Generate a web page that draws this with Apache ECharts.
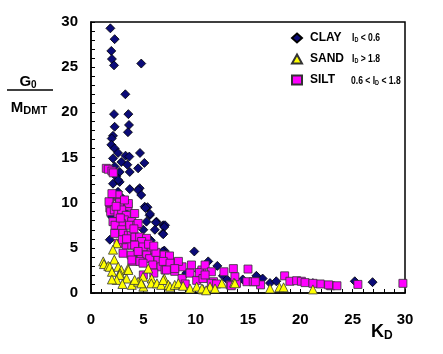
<!DOCTYPE html>
<html>
<head>
<meta charset="utf-8">
<script src="https://cdn.jsdelivr.net/npm/echarts@6/dist/echarts.min.js"></script>
<style>
html,body{margin:0;padding:0;background:#fff;}
#c{width:443px;height:354px;}
</style>
</head>
<body>
<div id="c"></div>
<script>
// Tick labels
const xTicks = [0, 5, 10, 15, 20, 25, 30];
const yTicks = [0, 5, 10, 15, 20, 25, 30];

// CLAY (I_D < 0.6): K_D values and G0/M_DMT values
const clayK = [1.85,2.26,1.94,2.0,2.2,4.8,3.28,2.2,3.57,2.26,3.63,3.53,2.1,1.98,1.94,2.26,2.58,3.3,3.66,4.68,2.1,2.9,3.47,5.1,4.5,3.7,2.74,2.26,2.4,2.1,2.74,2.6,3.7,4.65,4.5,2.58,4.8,5.13,5.4,5.2,5.6,5.64,1.98,6.25,6.2,5.3,6.9,7.07,7.0,6.1,5.0,6.85,6.9,5.64,5.7,1.8,7.0,6.85,9.87,11.2,12.07,9.1,12.6,15.8,16.4,17.1,17.7,21.2,25.2,26.9,3.0,3.2,4.0,2.5,4.3,8.0,10.3,13.0,14.5];
const clayG = [29.3,28.1,26.8,25.9,25.2,25.4,22.0,19.8,19.8,18.4,18.6,17.8,17.4,17.1,16.4,16.0,15.5,15.2,15.1,15.5,14.9,14.5,14.2,14.4,13.8,13.4,13.4,14.0,12.9,12.1,12.3,12.5,11.5,11.6,11.4,11.2,10.85,9.55,9.5,9.4,8.6,8.75,8.45,7.9,7.8,7.9,7.5,7.5,7.3,7.0,7.0,6.6,6.5,5.9,5.8,5.9,4.7,4.6,4.6,3.5,3.0,2.2,1.9,1.9,1.6,1.1,1.3,1.1,1.3,1.2,10.5,9.0,6.0,7.0,4.5,3.2,2.4,1.5,1.5];

// SILT (0.6 < I_D < 1.8)
const siltK = [1.46,1.65,2.0,2.13,2.55,2.58,2.74,3.53,1.8,1.8,1.72,2.74,3.57,1.88,2.23,2.58,2.93,3.37,4.17,3.18,2.1,2.9,3.89,2.3,3.7,4.37,4.5,2.93,2.26,3.06,3.57,3.85,4.2,4.65,5.3,4.84,2.58,3.37,3.9,4.17,4.97,5.8,3.06,3.85,4.8,5.32,5.6,6.4,7.04,7.07,4.0,3.9,4.68,4.97,5.9,6.7,7.9,8.7,9.6,10.6,7.07,8.0,6.97,7.5,6.9,7.55,8.35,7.2,8.0,8.7,9.46,10.1,10.35,10.9,11.5,10.7,11.7,13.6,13.3,13.9,10.9,12.7,15.0,11.5,13.4,14.9,15.5,16.2,18.5,19.0,19.65,20.1,20.45,21.9,22.9,23.5,25.5,29.8,13.75,15.7,21.2,22.7,5.0,6.0,9.0,12.0,2.4,3.2,2.0,3.0,4.5,5.5,6.2,6.0,2.8,4.1,3.4];
const siltG = [13.8,13.7,13.5,13.3,10.7,10.85,10.1,9.6,9.4,10.0,10.1,10.0,9.9,9.0,9.2,8.8,9.2,8.6,8.8,8.1,7.9,7.7,7.9,7.5,7.5,7.5,7.7,7.0,6.6,6.6,6.4,6.4,6.2,6.2,6.05,5.7,5.5,5.3,5.3,5.3,5.1,4.8,4.4,4.2,4.0,4.2,3.8,3.65,4.0,4.2,3.5,3.65,3.5,3.3,3.1,2.9,3.3,2.9,3.1,2.55,2.55,2.4,4.2,4.1,3.5,3.3,3.5,2.55,2.7,1.6,2.2,1.4,2.25,3.1,2.35,1.6,1.25,2.7,0.9,1.07,2.0,2.35,2.65,1.07,0.8,1.25,1.25,0.9,1.9,1.3,1.36,1.3,1.15,1.0,0.8,0.8,0.95,1.07,1.8,1.25,1.07,0.9,2.0,2.2,1.0,1.0,9.6,10.3,11.0,5.9,4.6,5.4,4.5,5.2,8.3,7.1,6.0];

// SAND (I_D > 1.8)
const sandK = [2.45,2.1,1.17,1.24,2.23,1.65,1.79,2.0,2.6,2.9,2.77,2.74,3.53,3.57,2.45,3.4,3.9,4.5,4.17,4.97,5.0,4.8,5.47,5.8,5.76,6.3,6.7,7.0,6.9,7.4,7.55,8.0,8.35,8.8,9.46,10.1,10.7,10.6,11.37,11.85,12.5,13.66,13.75,11.0,17.1,18.0,18.4,21.2,2.0,3.0];
const sandG = [5.5,4.8,3.5,3.2,3.7,3.0,2.9,2.35,2.9,2.55,2.2,2.0,2.7,2.55,1.45,1.6,0.9,1.25,1.45,1.8,0.7,1.07,2.7,1.6,1.07,1.07,0.9,1.6,1.44,0.9,0.7,0.9,1.07,0.8,0.5,0.7,0.4,0.5,0.7,0.5,1.07,1.14,1.07,0.3,0.5,0.63,0.63,0.4,1.5,1.0];

const seriesNames = ['CLAY', 'SAND', 'SILT'];

function pairs(xs, ys) { return xs.map((v, i) => [v, ys[i]]); }

const chart = echarts.init(document.getElementById('c'), null, {renderer: 'canvas'});
const F = 'Liberation Sans, Arial, sans-serif';

const axisCommon = {
  min: 0, max: 30, interval: 5,
  axisLine: {show: true, lineStyle: {color: '#000', width: 1.5}},
  axisTick: {show: true, inside: true, length: 4, lineStyle: {color: '#000', width: 1}},
  minorTick: {show: true, splitNumber: 5, length: 4, lineStyle: {color: '#000', width: 1}},
  splitLine: {show: false},
  axisLabel: {color: '#000', fontFamily: F, fontWeight: 'bold', fontSize: 15}
};

const condRich = {
  n: {fontFamily: F, fontWeight: 'bold', fontSize: 11, fill: '#000'},
  s: {fontFamily: F, fontWeight: 'bold', fontSize: 7, fill: '#000', padding: [4, 0, 0, 0]}
};
function cond(x, y, txt) {
  return {type: 'text', x: x, y: y, scaleX: 0.78, scaleY: 1,
    style: {x: 0, y: 0, text: txt, align: 'left', verticalAlign: 'middle', rich: condRich}};
}

chart.setOption({
  animation: false,
  backgroundColor: '#fff',
  grid: {left: 91, top: 22, right: 38, bottom: 61, show: true, borderColor: '#000', borderWidth: 1.5, backgroundColor: 'transparent'},
  xAxis: Object.assign({}, axisCommon, {
    type: 'value',
    axisLabel: Object.assign({}, axisCommon.axisLabel, {margin: 19, formatter: v => xTicks.includes(v) ? String(v) : ''})
  }),
  yAxis: Object.assign({}, axisCommon, {
    type: 'value',
    axisLabel: Object.assign({}, axisCommon.axisLabel, {margin: 13, formatter: v => yTicks.includes(v) ? String(v) : ''})
  }),
  legend: {
    orient: 'vertical', left: 286, top: 27,
    itemWidth: 10, itemHeight: 9, itemGap: 9,
    data: ['CLAY', 'SAND', 'SILT'],
    textStyle: {color: '#000', fontFamily: F, fontWeight: 'bold', fontSize: 12, padding: [0, 0, 0, 3]}
  },
  series: [
    {name: seriesNames[0], type: 'scatter', symbol: 'diamond', symbolSize: 9, z: 2,
     itemStyle: {color: '#0b0b78', borderColor: '#000', borderWidth: 0.8, opacity: 1},
     data: pairs(clayK, clayG)},
    {name: seriesNames[2], type: 'scatter', symbol: 'rect', symbolSize: 8, z: 3,
     itemStyle: {color: '#ff00ff', borderColor: '#333', borderWidth: 0.8, opacity: 1},
     data: pairs(siltK, siltG)},
    {name: seriesNames[1], type: 'scatter', symbol: 'triangle', symbolSize: 9, z: 4,
     itemStyle: {color: '#ffff00', borderColor: '#333', borderWidth: 0.8, opacity: 1},
     data: pairs(sandK, sandG)}
  ],
  graphic: [
    {type: 'text', style: {x: 28, y: 82, text: '{b|G}{s|0}', align: 'center', verticalAlign: 'middle',
      rich: {b: {fontFamily: F, fontWeight: 'bold', fontSize: 15, fill: '#000'}, s: {fontFamily: F, fontWeight: 'bold', fontSize: 10, fill: '#000', padding: [6, 0, 0, 0]}}}},
    {type: 'line', shape: {x1: 7, y1: 90, x2: 53, y2: 90}, style: {stroke: '#000', lineWidth: 1.5}},
    {type: 'text', style: {x: 29, y: 108, text: '{b|M}{s|DMT}', align: 'center', verticalAlign: 'middle',
      rich: {b: {fontFamily: F, fontWeight: 'bold', fontSize: 15, fill: '#000'}, s: {fontFamily: F, fontWeight: 'bold', fontSize: 11, fill: '#000', padding: [6, 0, 0, 0]}}}},
    {type: 'text', style: {x: 371, y: 332, text: '{b|K}{s|D}', align: 'left', verticalAlign: 'middle',
      rich: {b: {fontFamily: F, fontWeight: 'bold', fontSize: 18, fill: '#000'}, s: {fontFamily: F, fontWeight: 'bold', fontSize: 12, fill: '#000', padding: [8, 0, 0, 0]}}}},
    cond(352, 38, '{n|I}{s|D}{n| < 0.6}'),
    cond(352, 59, '{n|I}{s|D}{n| > 1.8}'),
    cond(351, 81, '{n|0.6 < I}{s|D}{n| < 1.8}')
  ]
});
</script>
</body>
</html>
